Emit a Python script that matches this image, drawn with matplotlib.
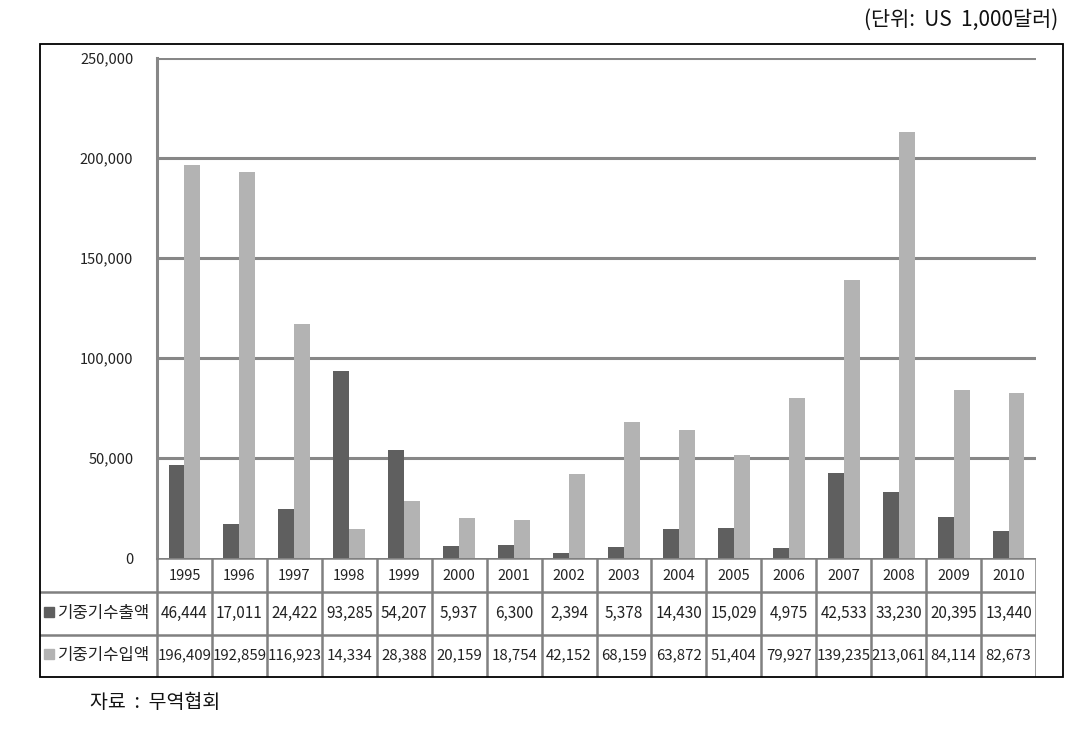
import matplotlib
matplotlib.use("Agg")
import matplotlib.pyplot as plt
from matplotlib.patches import Rectangle

plt.rcParams['font.family'] = ['Noto Sans CJK KR', 'DejaVu Sans']

years = ['1995', '1996', '1997', '1998', '1999', '2000', '2001', '2002',
         '2003', '2004', '2005', '2006', '2007', '2008', '2009', '2010']
exports = [46444, 17011, 24422, 93285, 54207, 5937, 6300, 2394,
           5378, 14430, 15029, 4975, 42533, 33230, 20395, 13440]
imports = [196409, 192859, 116923, 14334, 28388, 20159, 18754, 42152,
           68159, 63872, 51404, 79927, 139235, 213061, 84114, 82673]
series_names = ['기중기수출액', '기중기수입액']
yticks = [0, 50000, 100000, 150000, 200000, 250000]

W, H = 1085, 733
fig = plt.figure(figsize=(W / 100, H / 100), dpi=100)

def fr(x0, y0, x1, y1):
    return [x0 / W, 1 - y1 / H, (x1 - x0) / W, (y1 - y0) / H]

dark = '#5f5f5f'
light = '#b3b3b3'
gridc = '#878787'

# outer box
fig.add_artist(Rectangle((40 / W, 1 - 677 / H), (1063 - 40) / W, (677 - 44) / H,
                         transform=fig.transFigure, fill=False, edgecolor='black', lw=1.3))

# plot axes
px_left, px_right = 157, 1036
ax = fig.add_axes(fr(px_left, 58, px_right, 558))
n = len(years)
ax.set_xlim(0, n)
ax.set_ylim(0, 250000)
xs = [i + 0.5 for i in range(n)]
bw = 0.29
ax.bar([x - bw / 2 for x in xs], exports, width=bw, color=dark, zorder=3)
ax.bar([x + bw / 2 for x in xs], imports, width=bw, color=light, zorder=3)
for v in yticks[1:]:
    ax.axhline(v, color=gridc, lw=2.2, zorder=1)
for s in ['top', 'right', 'bottom']:
    ax.spines[s].set_visible(False)
ax.spines['left'].set_color(gridc)
ax.spines['left'].set_linewidth(2.2)
ax.set_xticks([])
ax.set_yticks(yticks)
ax.set_yticklabels([f'{v:,}' for v in yticks], fontsize=10.5, color='#222222')
ax.tick_params(axis='y', length=0, pad=17)

# table axes (shares column units)
lead = (157 - 40) / ((px_right - px_left) / n)
tax = fig.add_axes(fr(40, 558, px_right, 677))
tax.set_xlim(-lead, n)
tax.set_ylim(677, 558)
tax.axis('off')
rows_y = [558, 592, 635, 676]
lc = '#808080'
lw = 1.8
tax.plot([0, n], [rows_y[0], rows_y[0]], color=lc, lw=lw)
for yy in rows_y[1:3]:
    tax.plot([-lead, n], [yy, yy], color=lc, lw=lw)
for i in range(n + 1):
    tax.plot([i, i], [558, 676], color=lc, lw=lw)
for i, y in enumerate(years):
    tax.text(i + 0.5, (rows_y[0] + rows_y[1]) / 2 + 1, y, ha='center', va='center',
             fontsize=10.5, color='#222222')
for i in range(n):
    tax.text(i + 0.5, (rows_y[1] + rows_y[2]) / 2, f'{exports[i]:,}', ha='center',
             va='center', fontsize=11, color='#222222')
    tax.text(i + 0.5, (rows_y[2] + rows_y[3]) / 2, f'{imports[i]:,}', ha='center',
             va='center', fontsize=10.8, color='#222222')
for r, (name, col) in enumerate(zip(series_names, [dark, light])):
    yc = (rows_y[r + 1] + rows_y[r + 2]) / 2
    tax.plot([-lead + 0.17], [yc - 2], marker='s', ms=6.5, color=col, ls='none')
    tax.text(-lead + 0.33, yc, name, ha='left', va='center', fontsize=12, color='#222222')

fig.text(1058 / W, 1 - 20 / H, '(단위:  US  1,000달러)', ha='right', va='center',
         fontsize=15, color='#111111')
fig.text(90 / W, 1 - 703 / H, '자료  :  무역협회', ha='left', va='center',
         fontsize=14, color='#111111')

fig.savefig('out.png', dpi=100)
